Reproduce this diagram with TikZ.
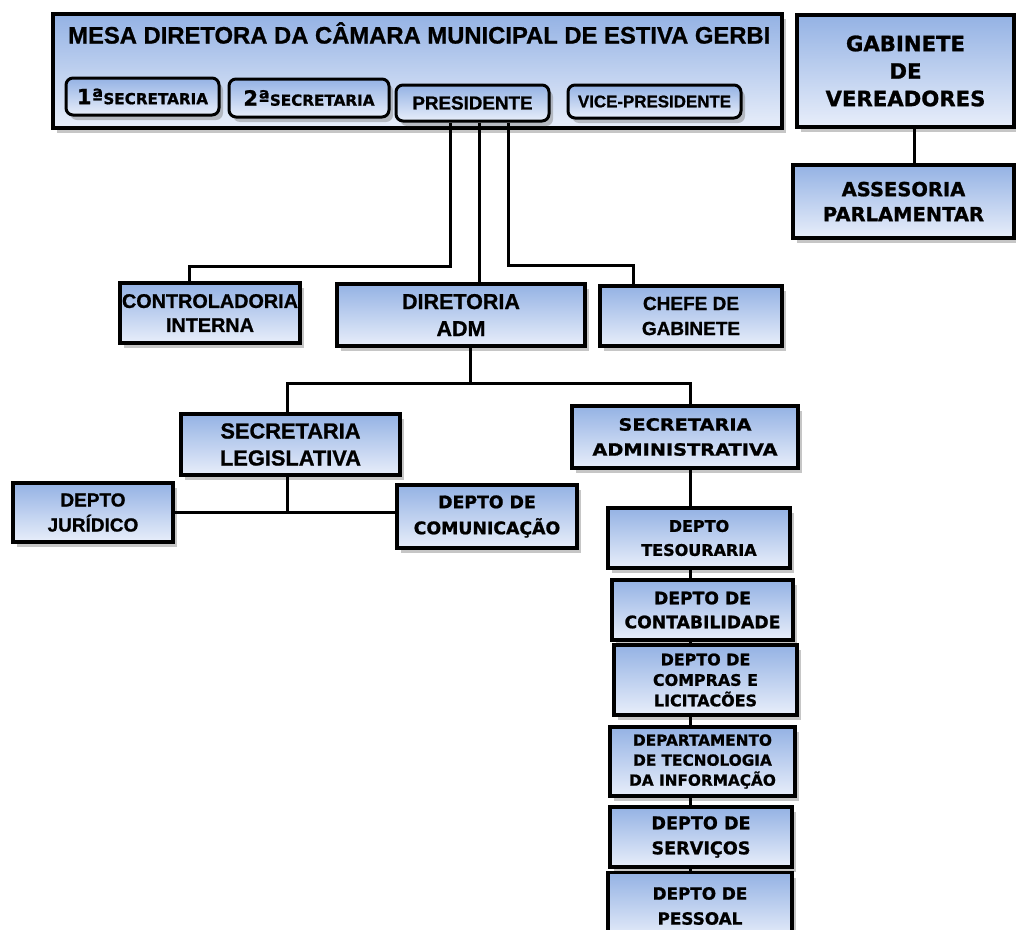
\documentclass[tikz,border=0pt]{standalone}
\usepackage{fontspec}
\setmainfont{Liberation Sans}
\newfontfamily\negra{Liberation Sans Bold}[FakeBold=1]
\newfontfamily\larga{DejaVu Sans Bold}[FakeBold=1.1]
\newfontfamily\largax{DejaVu Sans Bold}[FakeBold=1.1, FakeStretch=1.15]
\usetikzlibrary{shadows}

\definecolor{caixatopo}{RGB}{148,178,228}
\definecolor{caixabase}{RGB}{232,238,250}

\tikzset{
  cargo/.style={draw=black, line width=3.5pt, top color=caixatopo, bottom color=caixabase,
    drop shadow={opacity=0.45, shadow xshift=4pt, shadow yshift=-5pt},
    align=center, inner sep=0pt},
  membro/.style={cargo, rounded corners=7pt, line width=3pt},
  fina/.style 2 args={font=\negra\fontsize{#1}{#2}\selectfont},
  larga/.style 2 args={font=\larga\fontsize{#1}{#2}\selectfont},
  elo/.style={line width=3pt},
}

\begin{document}
\begin{tikzpicture}[x=1pt,y=1pt,yscale=-1]
		\useasboundingbox (0,0) rectangle (1016,929);

		% Mesa diretora
		\node[cargo, minimum width=729, minimum height=114] (mesa) at (417.5,71) {};
		\node[anchor=west, inner sep=0pt, fina={23.8}{26}] (titulo) at (68,33) {MESA DIRETORA DA CÂMARA MUNICIPAL DE ESTIVA GERBI};
		\node[membro, minimum width=153, minimum height=37, larga={15.2}{16}] (sec1) at (142.5,96.5) {{\fontsize{21}{22}\selectfont 1ª}SECRETARIA};
		\node[membro, minimum width=160, minimum height=38, larga={15.2}{16}] (sec2) at (309,98) {{\fontsize{21}{22}\selectfont 2ª}SECRETARIA};
		\node[membro, minimum width=153, minimum height=36, fina={18.8}{20}] (pres) at (472.5,103) {PRESIDENTE};
		\node[membro, minimum width=173, minimum height=33, fina={16.9}{18}] (vice) at (654.5,101.5) {VICE-PRESIDENTE};

		% Gabinete
		\node[cargo, minimum width=217, minimum height=112, larga={21.2}{27.5}] (gab) at (905.5,71) {GABINETE\\DE\\VEREADORES};
		\node[cargo, minimum width=221, minimum height=73, larga={19.5}{25}] (asses) at (903.5,201.5) {ASSESORIA\\PARLAMENTAR};

		% Segundo nivel
		\node[cargo, minimum width=180, minimum height=60, fina={19.8}{24}] (ctrl) at (210,313) {CONTROLADORIA\\INTERNA};
		\node[cargo, minimum width=248, minimum height=62, fina={21.5}{27}] (dir) at (461,315) {DIRETORIA\\ADM};
		\node[cargo, minimum width=182, minimum height=60, fina={19}{25}] (chefe) at (691,316) {CHEFE DE\\GABINETE};

		% Secretarias
		\node[cargo, minimum width=219, minimum height=61, fina={21.8}{27}] (secleg) at (290.5,444.5) {SECRETARIA\\LEGISLATIVA};
		\node[cargo, minimum width=226, minimum height=62, font=\largax\fontsize{16.8}{25}\selectfont] (secadm) at (685,437) {SECRETARIA\\ADMINISTRATIVA};
		\node[cargo, minimum width=160, minimum height=59, fina={19}{25}] (jur) at (93,512.5) {DEPTO\\JURÍDICO};
		\node[cargo, minimum width=180, minimum height=63, larga={17.3}{26}] (com) at (487,516.5) {DEPTO DE\\COMUNICAÇÃO};

		% Departamentos da secretaria administrativa
		\node[cargo, minimum width=182, minimum height=60, larga={16}{24}] (tes) at (699,538) {DEPTO\\TESOURARIA};
		\node[cargo, minimum width=181, minimum height=60, larga={17.2}{24}] (cont) at (702.5,610) {DEPTO DE\\CONTABILIDADE};
		\node[cargo, minimum width=183, minimum height=70, larga={15.9}{20.5}] (comp) at (705.5,680) {DEPTO DE\\COMPRAS E\\LICITACÕES};
		\node[cargo, minimum width=185, minimum height=69, larga={15.3}{20}] (tec) at (702.5,761.5) {DEPARTAMENTO\\DE TECNOLOGIA\\DA INFORMAÇÃO};
		\node[cargo, minimum width=182, minimum height=60, larga={17.6}{25}] (serv) at (701,837) {DEPTO DE\\SERVIÇOS};
		\node[cargo, minimum width=184, minimum height=67, larga={16.8}{25}] (pes) at (700,906) {DEPTO DE\\PESSOAL};

		% Ligacoes
		\coordinate (eixo) at (690,0);
		\draw[elo] ([xshift=-22pt]pres.south) |- ([xshift=-21pt,yshift=-15pt]ctrl.north) -- ([xshift=-21pt]ctrl.north);
		\draw[elo] ([xshift=6.5pt]pres.south) -- ([xshift=6.5pt]pres.south |- dir.north);
		\draw[elo] ([xshift=36pt]pres.south) |- ([xshift=-58pt,yshift=-19pt]chefe.north) -- ([xshift=-58pt]chefe.north);
		\draw[elo] ([xshift=9pt]gab.south) -- ([xshift=9pt]gab.south |- asses.north);
		\draw[elo] ([xshift=9pt]dir.south) -- ([xshift=9pt]dir.south |- 0,385);
		\draw[elo] ([xshift=-3pt]secleg.north) -- ++(0,-29) -| (secadm.north -| eixo);
		\draw[elo] ([xshift=-3pt]secleg.south) -- ([xshift=-3pt]secleg.south |- jur.east);
		\draw[elo] (jur.east) -- (jur.east -| com.west);
		\foreach \a/\b in {secadm/tes, tes/cont, cont/comp, comp/tec, tec/serv, serv/pes}
			\draw[elo] (\a.south -| eixo) -- (\b.north -| eixo);
\end{tikzpicture}
\end{document}
